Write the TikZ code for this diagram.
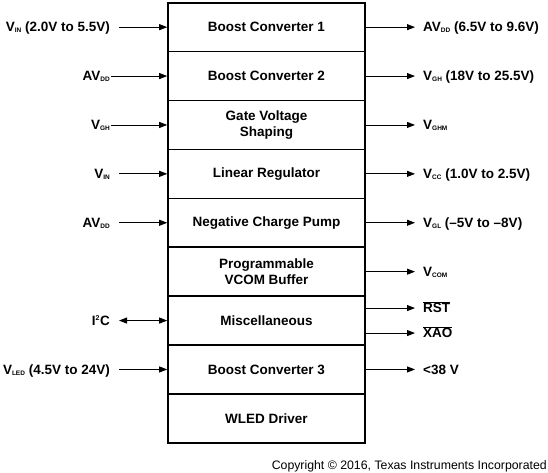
\documentclass[tikz,border=0pt]{standalone}
\usepackage{fontspec}
\setmainfont{Liberation Sans}
\usetikzlibrary{arrows.meta}
\newcommand{\lsub}[1]{\raisebox{-0.8pt}{\fontsize{6.5}{6.5}\selectfont #1}}
\tikzset{
  rowbox/.style={draw, line width=1.6pt, minimum width=197pt, minimum height=48.9pt,
    inner sep=0pt, align=center, font=\fontsize{13.5}{16}\selectfont\bfseries},
  lab/.style={inner ysep=0pt, font=\fontsize{13.5}{16}\selectfont\bfseries},
  llab/.style={lab, anchor=base east, inner xsep=9pt},
  llabn/.style={lab, anchor=base east, inner xsep=1pt},
  rlab/.style={lab, anchor=base west, inner xsep=8pt},
  arr/.style={line width=0.8pt, -{Triangle[length=8pt,width=6pt]}},
  darr/.style={line width=0.8pt, {Triangle[length=8pt,width=6pt]}-{Triangle[length=8pt,width=6pt]}}
}
\begin{document}
\begin{tikzpicture}[x=1pt,y=-1pt]
\useasboundingbox (0,0) rectangle (548,472);
% rows
\node[rowbox] (r0) at (266.5,27.15) {Boost Converter 1};
\node[rowbox] (r1) at (266.5,76.05) {Boost Converter 2};
\node[rowbox] (r2) at (266.5,124.95) {Gate Voltage\\Shaping};
\node[rowbox] (r3) at (266.5,173.85) {Linear Regulator};
\node[rowbox] (r4) at (266.5,222.75) {Negative Charge Pump};
\node[rowbox] (r5) at (266.5,271.65) {Programmable\\VCOM Buffer};
\node[rowbox] (r6) at (266.5,320.55) {Miscellaneous};
\node[rowbox] (r7) at (266.5,369.45) {Boost Converter 3};
\node[rowbox] (r8) at (266.5,418.35) {WLED Driver};
% left labels
\node[llab]  (l0) at (119,31.9) {V\lsub{IN} (2.0V to 5.5V)};
\node[llabn] (l1) at (111,80.8) {AV\lsub{DD}};
\node[llabn] (l2) at (111,129.7) {V\lsub{GH}};
\node[llab]  (l3) at (119,178.6) {V\lsub{IN}};
\node[llab]  (l4) at (119,227.5) {AV\lsub{DD}};
\node[llab]  (l6) at (119,325.3) {I\textsuperscript{\fontsize{7}{7}\selectfont 2}C};
\node[llab]  (l7) at (119,374.2) {V\lsub{LED} (4.5V to 24V)};
% right labels
\node[rlab] (o0) at (415,31.9) {AV\lsub{DD} (6.5V to 9.6V)};
\node[rlab] (o1) at (415,80.8) {V\lsub{GH} (18V to 25.5V)};
\node[rlab] (o2) at (415,129.7) {V\lsub{GHM}};
\node[rlab] (o3) at (415,178.6) {V\lsub{CC} (1.0V to 2.5V)};
\node[rlab] (o4) at (415,227.5) {V\lsub{GL} (\textendash5V to \textendash8V)};
\node[rlab] (o5) at (415,276.4) {V\lsub{COM}};
\node[rlab] (o6a) at (415,312.8) {$\overline{\hbox{\bfseries RST}}$};
\node[rlab] (o6b) at (415,337.8) {$\overline{\hbox{\bfseries XAO}}$};
\node[rlab] (o7) at (415,374.2) {<38 V};
% left arrows
\draw[arr] (r0.west -| l0.east) -- (r0.west);
\draw[arr] (r1.west -| l1.east) -- (r1.west);
\draw[arr] (r2.west -| l2.east) -- (r2.west);
\draw[arr] (r3.west -| l3.east) -- (r3.west);
\draw[arr] (r4.west -| l4.east) -- (r4.west);
\draw[darr] (r6.west -| l6.east) -- (r6.west);
\draw[arr] (r7.west -| l7.east) -- (r7.west);
% right arrows
\draw[arr] (r0.east) -- (r0.east -| o0.west);
\draw[arr] (r1.east) -- (r1.east -| o1.west);
\draw[arr] (r2.east) -- (r2.east -| o2.west);
\draw[arr] (r3.east) -- (r3.east -| o3.west);
\draw[arr] (r4.east) -- (r4.east -| o4.west);
\draw[arr] (r5.east) -- (r5.east -| o5.west);
\coordinate (m1) at ([yshift=12.5pt]r6.east);
\coordinate (m2) at ([yshift=-12.5pt]r6.east);
\draw[arr] (m1) -- (m1 -| o6a.west);
\draw[arr] (m2) -- (m2 -| o6b.west);
\draw[arr] (r7.east) -- (r7.east -| o7.west);
% copyright
\node[anchor=base east, inner sep=0pt, font=\fontsize{12.3}{14}\selectfont] (cp) at (547,469.5) {Copyright \textcopyright{} 2016, Texas Instruments Incorporated};
\end{tikzpicture}
\end{document}
